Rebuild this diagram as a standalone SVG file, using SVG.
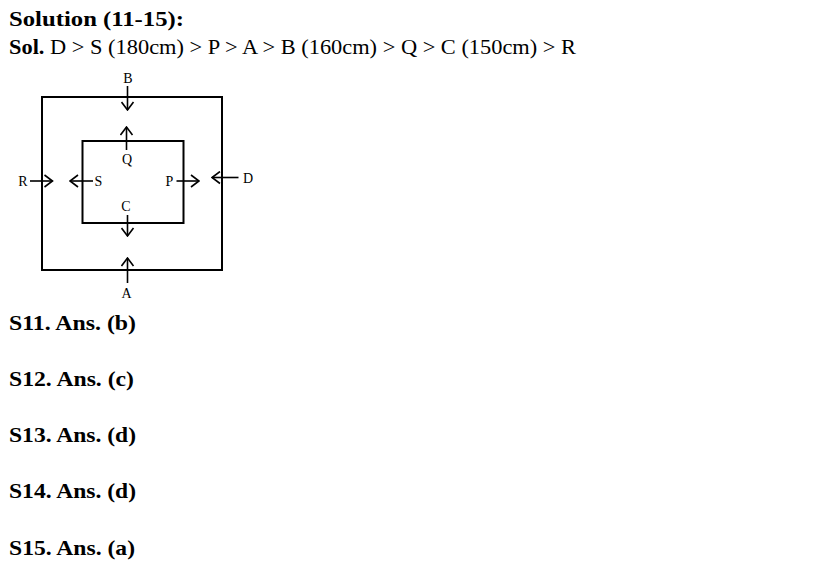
<svg xmlns="http://www.w3.org/2000/svg" width="813" height="571" viewBox="0 0 813 571">
<style>
text{font-family:"Liberation Serif","DejaVu Serif",serif;fill:#000}
.h{font-size:22px;font-weight:bold}
.r{font-size:22px}
.l{font-size:14px;text-anchor:middle}
.box{fill:none;stroke:#000;stroke-width:2}
.ln{fill:none;stroke:#000;stroke-width:1.6}
</style>
<defs>
<marker id="ah" viewBox="0 0 10 14" refX="9" refY="7" markerWidth="10" markerHeight="14" markerUnits="userSpaceOnUse" orient="auto">
<path d="M1,1 L9,7 L1,13" fill="none" stroke="#000" stroke-width="1.6"/>
</marker>
</defs>
<rect width="813" height="571" fill="#fff"/>
<text class="h" x="9" y="26" textLength="175" lengthAdjust="spacingAndGlyphs">Solution (11-15):</text>
<text x="9" y="54" textLength="567" lengthAdjust="spacingAndGlyphs"><tspan class="h">Sol.</tspan><tspan class="r"> D &gt; S (180cm) &gt; P &gt; A &gt; B (160cm) &gt; Q &gt; C (150cm) &gt; R</tspan></text>
<g id="outer"><rect class="box" x="42" y="97" width="180" height="173"/></g>
<g id="inner"><rect class="box" x="82.5" y="141" width="101" height="82"/></g>
<g id="labels">
<text class="l" x="128" y="83">B</text>
<text class="l" x="127" y="164">Q</text>
<text class="l" x="23" y="186">R</text>
<text class="l" x="98.5" y="186">S</text>
<text class="l" x="169.5" y="186">P</text>
<text class="l" x="248" y="183">D</text>
<text class="l" x="126" y="211">C</text>
<text class="l" x="126.5" y="298">A</text>
</g>
<g id="connectors">
<line class="ln" x1="127.5" y1="86" x2="127.5" y2="110" marker-end="url(#ah)"/>
<line class="ln" x1="126.5" y1="150" x2="126.5" y2="127" marker-end="url(#ah)"/>
<line class="ln" x1="30" y1="181" x2="52.5" y2="181" marker-end="url(#ah)"/>
<line class="ln" x1="93" y1="181" x2="70" y2="181" marker-end="url(#ah)"/>
<line class="ln" x1="176.5" y1="181" x2="199" y2="181" marker-end="url(#ah)"/>
<line class="ln" x1="238.5" y1="177.5" x2="212" y2="177.5" marker-end="url(#ah)"/>
<line class="ln" x1="127.5" y1="215" x2="127.5" y2="236" marker-end="url(#ah)"/>
<line class="ln" x1="127.5" y1="283" x2="127.5" y2="258" marker-end="url(#ah)"/>
</g>
<g id="answers">
<text class="h" x="9" y="330" textLength="127" lengthAdjust="spacingAndGlyphs">S11. Ans. (b)</text>
<text class="h" x="9" y="386" textLength="125" lengthAdjust="spacingAndGlyphs">S12. Ans. (c)</text>
<text class="h" x="9" y="442" textLength="127" lengthAdjust="spacingAndGlyphs">S13. Ans. (d)</text>
<text class="h" x="9" y="498" textLength="127" lengthAdjust="spacingAndGlyphs">S14. Ans. (d)</text>
<text class="h" x="9" y="555" textLength="126" lengthAdjust="spacingAndGlyphs">S15. Ans. (a)</text>
</g>
</svg>
